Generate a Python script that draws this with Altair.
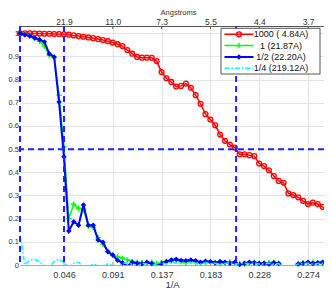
import altair as alt
import pandas as pd

# ---------------- data ----------------
shell = list(range(1, 65))
freq = [k / 219.12 for k in shell]  # spatial frequency 1/A of each shell

fsc_1000 = [1.000, 1.000, 1.000, 0.999, 0.999, 0.998, 0.998, 0.997, 0.997, 0.996,
            0.994, 0.991, 0.988, 0.985, 0.982, 0.979, 0.975, 0.971, 0.966, 0.960,
            0.953, 0.945, 0.928, 0.912, 0.898, 0.895, 0.895, 0.894, 0.880, 0.833,
            0.806, 0.790, 0.770, 0.773, 0.783, 0.765, 0.733, 0.696, 0.651, 0.628,
            0.603, 0.563, 0.536, 0.520, 0.507, 0.478, 0.478, 0.474, 0.470, 0.438,
            0.427, 0.409, 0.384, 0.363, 0.355, 0.309, 0.302, 0.292, 0.277, 0.263,
            0.269, 0.263, 0.251, 0.234]

fsc_1 = [1.000, 0.995, 0.990, 0.980, 0.965, 0.945, 0.905, 0.895, 0.733, 0.510,
         0.200, 0.262, 0.245, 0.240, 0.168, 0.162, 0.118, 0.088, 0.058, 0.042,
         0.036, 0.029, 0.022, 0.015, 0.012, 0.010, 0.008, 0.012, 0.006, 0.010,
         0.015, 0.018, 0.020, 0.014, 0.010, 0.016, 0.012, 0.008, 0.012, 0.015,
         0.010, 0.006, 0.010, 0.014, 0.008, 0.006, 0.004, 0.010, 0.012, 0.008,
         0.006, 0.010, 0.012, 0.008, -0.010, -0.015, -0.008, 0.006, 0.010, 0.008,
         0.012, 0.010, 0.006, 0.010]

fsc_half = [1.000, 0.994, 0.988, 0.980, 0.973, 0.963, 0.912, 0.898, 0.704, 0.467,
            0.147, 0.187, 0.172, 0.259, 0.172, 0.172, 0.108, 0.098, 0.057, 0.043,
            0.020, 0.010, -0.005, 0.012, 0.008, 0.005, 0.012, 0.006, -0.004, 0.008,
            0.015, 0.022, 0.025, 0.020, 0.018, 0.022, 0.018, 0.012, 0.016, 0.014,
            0.010, 0.015, 0.012, 0.008, 0.012, 0.002, 0.008, 0.012, 0.010, 0.006,
            0.008, 0.004, 0.010, 0.006, -0.012, -0.020, -0.010, 0.004, 0.008, 0.012,
            0.006, 0.010, 0.012, 0.006]

fsc_quarter = [0.130, 0.000, 0.020, 0.025, 0.015, -0.005, -0.010, 0.015, 0.025, 0.010,
               -0.010, 0.008, 0.012, -0.008, -0.010, 0.005, -0.005, -0.010, 0.005, 0.000,
               -0.005, 0.006, 0.010, 0.004, -0.006, 0.008, 0.004, -0.004, 0.006, 0.010,
               0.004, 0.012, 0.008, 0.010, 0.006, 0.012, 0.008, 0.004, 0.010, 0.006,
               0.008, 0.004, 0.006, 0.010, 0.004, 0.006, 0.008, 0.005, 0.008, 0.004,
               0.006, 0.008, 0.004, 0.006, -0.012, -0.018, -0.010, 0.004, 0.006, 0.008,
               0.004, 0.006, 0.008, 0.004]

series_names = ["1000 ( 4.84A)", "1 (21.87A)", "1/2 (22.20A)", "1/4 (219.12A)"]
series_colors = ["#ff0000", "#00ff00", "#0000ff", "#00ffff"]

res_lines = [1 / 219.12, 1 / 21.87, 1 / 4.84]   # vertical dashed lines (1/A)
half_line = [0.5]                                # FSC = 0.5 threshold

x_ticks = [0.04566, 0.09132, 0.13699, 0.18265, 0.22831, 0.27397]
y_ticks = [0, 0.1, 0.2, 0.3, 0.4, 0.5, 0.6, 0.7, 0.8, 0.9, 1.0]

# ---------------- layout ----------------
W, H = 304, 239
PAD = {"left": 12, "top": 18, "right": 0, "bottom": 26}
FONT = "Liberation Sans"
TXT = "#333333"

xs = alt.Scale(domain=[1 / 219.12, 0.28881], nice=False, zero=False)
ys = alt.Scale(domain=[0, 1.0315], nice=False, zero=False)


def series_df(vals):
    return pd.DataFrame({"freq": freq, "fsc": vals})


X = lambda: alt.X("freq:Q", scale=xs, axis=None)
Y = lambda: alt.Y("fsc:Q", scale=ys, axis=None)

x_axis_bottom = alt.Axis(orient="bottom", values=x_ticks, format=".3f", grid=True,
                         gridColor="#e4e4e4", ticks=False, domainColor="#a8a8a8",
                         labelFont=FONT, labelFontSize=9, labelColor=TXT, labelPadding=5,
                         title="1/A", titleFont=FONT, titleFontSize=9.5,
                         titleFontWeight="normal", titleColor=TXT, titlePadding=0)
y_axis_left = alt.Axis(orient="left", values=y_ticks, format=".1~f", grid=True,
                       gridColor="#e4e4e4", ticks=False, domain=False,
                       labelFont=FONT, labelFontSize=7.5, labelColor=TXT, labelPadding=1.5,
                       title=None)
x_axis_top = alt.Axis(orient="top", values=x_ticks, labelExpr="format(1/datum.value, '.1f')",
                      grid=False, ticks=False, domainColor="#555555", labelFont=FONT,
                      labelFontSize=8.5, labelColor=TXT, labelPadding=0,
                      title="Angstroms", titleFont=FONT, titleFontSize=7.5,
                      titleFontWeight="normal", titleColor=TXT,
                      titleBaseline="alphabetic", titleY=-11.2, titleX=158,
                      titleAlign="center")

layers = []

# axes carrier layers
tick_df = pd.DataFrame({"t": x_ticks})
layers.append(alt.Chart(pd.DataFrame({"yt": y_ticks})).mark_rule(opacity=0)
              .encode(y=alt.Y("yt:Q", scale=ys, axis=y_axis_left)))
layers.append(alt.Chart(tick_df).mark_rule(color="#a8a8a8", strokeWidth=1)
              .encode(x=alt.X("t:Q", scale=xs, axis=x_axis_bottom),
                      y=alt.value(H - 3), y2=alt.value(H)))
layers.append(alt.Chart(tick_df).mark_rule(color="#555555", strokeWidth=1)
              .encode(x=alt.X("t:Q", scale=xs, axis=x_axis_top),
                      y=alt.value(0), y2=alt.value(3)))

red_df = series_df(fsc_1000)
layers.append(alt.Chart(red_df).mark_line(color=series_colors[0], strokeWidth=1.5, clip=True)
              .encode(x=X(), y=Y()))
layers.append(alt.Chart(red_df).mark_point(shape="circle", filled=False, size=24,
                                           strokeWidth=1.3, color=series_colors[0], opacity=1)
              .transform_filter("datum.fsc >= 0").encode(x=X(), y=Y()))

green_df = series_df(fsc_1)
layers.append(alt.Chart(green_df).mark_line(color=series_colors[1], strokeWidth=1.5, clip=True)
              .encode(x=X(), y=Y()))
layers.append(alt.Chart(green_df).mark_point(shape="M-1,0L1,0M0,-1L0,1", filled=False, size=30,
                                             strokeWidth=1.4, color=series_colors[1], opacity=1)
              .transform_filter("datum.fsc >= 0").encode(x=X(), y=Y()))

blue_df = series_df(fsc_half)
layers.append(alt.Chart(blue_df).mark_line(color=series_colors[2], strokeWidth=2, clip=True)
              .encode(x=X(), y=Y()))
layers.append(alt.Chart(blue_df).mark_point(shape="diamond", filled=True, size=30,
                                            color=series_colors[2], opacity=1)
              .transform_filter("datum.fsc >= 0").encode(x=X(), y=Y()))

cyan_df = series_df(fsc_quarter)
layers.append(alt.Chart(cyan_df).mark_line(color=series_colors[3], strokeWidth=1.5, clip=True,
                                           strokeDash=[5, 2, 1.5, 2])
              .encode(x=X(), y=Y()))

# dashed guide lines
layers.append(alt.Chart(pd.DataFrame({"r": res_lines}))
              .mark_rule(color="#2222ff", strokeWidth=2, strokeDash=[6, 4])
              .encode(x=alt.X("r:Q", scale=xs, axis=None)))
layers.append(alt.Chart(pd.DataFrame({"h": half_line}))
              .mark_rule(color="#2222ff", strokeWidth=2, strokeDash=[6, 4])
              .encode(y=alt.Y("h:Q", scale=ys, axis=None)))

# ---------------- legend (manual, MATLAB style) ----------------
LB = dict(x0=201, x1=300, y0=2.3, y1=48)
row_y = [8.3 + 11.3 * i for i in range(4)]
line_x0, line_x1 = 204.5, 233.5
mark_x = (line_x0 + line_x1) / 2
text_x = 261

layers.append(alt.Chart(pd.DataFrame({"a": [0]})).mark_rect(fill="white", stroke="#555555", strokeWidth=1)
              .encode(x=alt.value(LB["x0"]), x2=alt.value(LB["x1"]),
                      y=alt.value(LB["y0"]), y2=alt.value(LB["y1"])))

dashes = [[1, 0], [1, 0], [1, 0], [5, 2, 1.5, 2]]
widths = [1.5, 1.5, 2, 1.5]
for i in range(4):
    layers.append(alt.Chart(pd.DataFrame({"a": [0]}))
                  .mark_rule(color=series_colors[i], strokeWidth=widths[i], strokeDash=dashes[i])
                  .encode(x=alt.value(line_x0), x2=alt.value(line_x1), y=alt.value(row_y[i])))
    layers.append(alt.Chart(pd.DataFrame({"name": [series_names[i]]}))
                  .mark_text(font=FONT, fontSize=9, color="#111111", align="center",
                             baseline="middle")
                  .encode(x=alt.value(text_x), y=alt.value(row_y[i]), text="name:N"))

layers.append(alt.Chart(pd.DataFrame({"a": [0]}))
              .mark_point(shape="circle", filled=False, size=24, strokeWidth=1.3,
                          color=series_colors[0], opacity=1)
              .encode(x=alt.value(mark_x), y=alt.value(row_y[0])))
layers.append(alt.Chart(pd.DataFrame({"a": [0]}))
              .mark_point(shape="M-1,0L1,0M0,-1L0,1", filled=False, size=30, strokeWidth=1.4,
                          color=series_colors[1], opacity=1)
              .encode(x=alt.value(mark_x), y=alt.value(row_y[1])))
layers.append(alt.Chart(pd.DataFrame({"a": [0]}))
              .mark_point(shape="diamond", filled=True, size=30, color=series_colors[2], opacity=1)
              .encode(x=alt.value(mark_x), y=alt.value(row_y[2])))

chart = (alt.layer(*layers)
         .resolve_axis(x="independent", y="independent")
         .properties(width=W, height=H, padding=PAD,
                     autosize=alt.AutoSizeParams(type="none"), background="white")
         .configure_view(stroke=None))

chart.save("out.html", embed_options={"renderer": "svg", "actions": False})
